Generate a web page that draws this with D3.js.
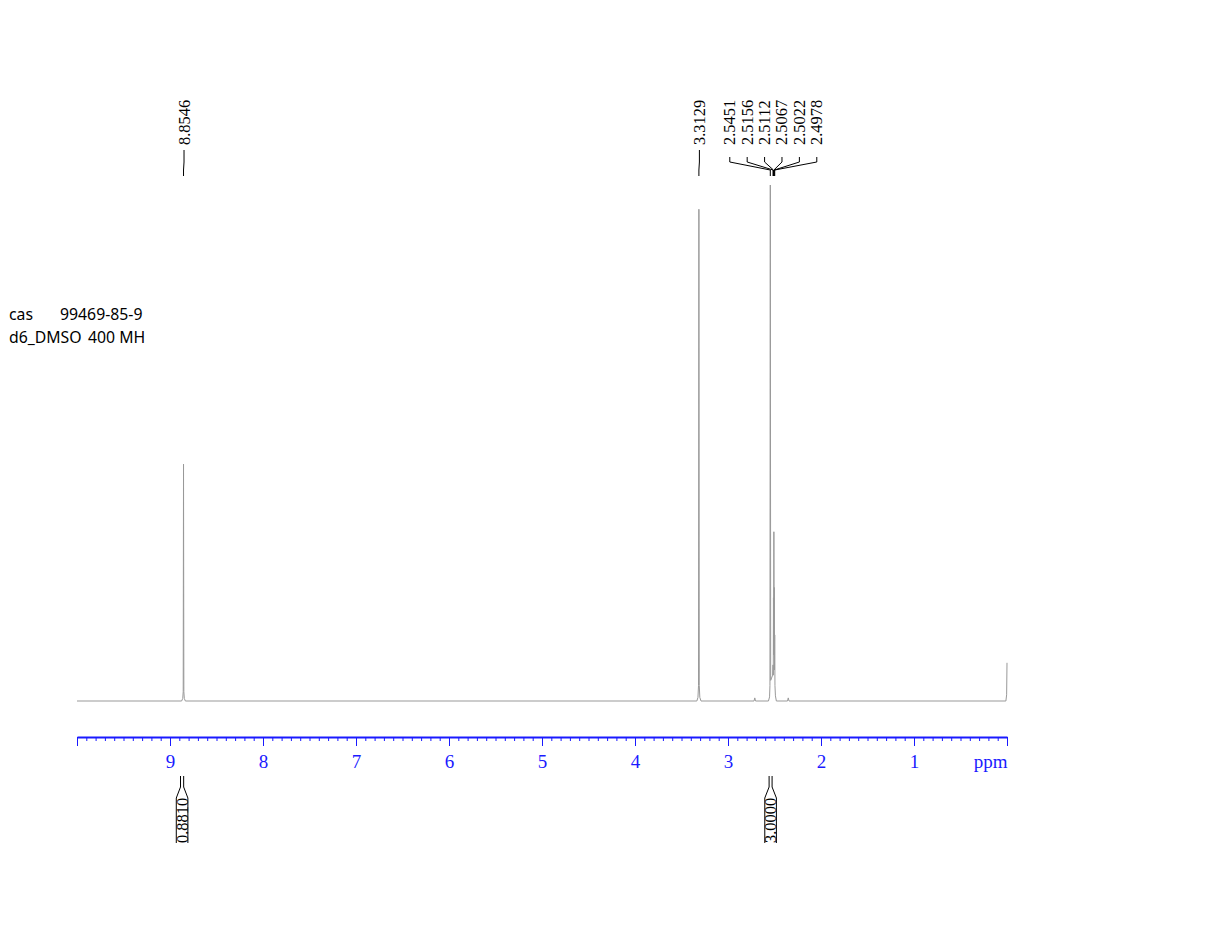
<!DOCTYPE html>
<html><head><meta charset="utf-8">
<script src="https://cdn.jsdelivr.net/npm/d3@7/dist/d3.min.js"></script>
<style>body{margin:0;background:#fff}svg{display:block}</style>
</head><body>
<svg id="c" width="1222" height="952"></svg>
<script>
// ---- data ----
// spectrum points: [ppm, relative intensity]
const spectrum = [
  [10.0, 0],
  [8.875, 0], [8.863, 0.5], [8.858, 1.8], [8.8546, 45.9], [8.851, 1.8], [8.846, 0.5], [8.835, 0],
  [3.335, 0], [3.323, 0.7], [3.317, 3], [3.3129, 95.3], [3.309, 3], [3.303, 0.7], [3.29, 0],
  [2.72, 0], [2.712, 0.6], [2.704, 0],
  [2.565, 0], [2.553, 0.8], [2.549, 3], [2.5451, 100], [2.541, 4], [2.52, 5], [2.5156, 7], [2.513, 5],
  [2.5112, 20], [2.509, 9], [2.5067, 32.8], [2.504, 9], [2.5022, 22], [2.500, 6], [2.4978, 12.8],
  [2.495, 3], [2.49, 1], [2.48, 0],
  [2.36, 0], [2.352, 0.6], [2.344, 0],
  [0.012, 0], [0.004, 1.2], [0.0, 7.4]
];
const peakGroups = [
  ["8.8546"],
  ["3.3129"],
  ["2.5451", "2.5156", "2.5112", "2.5067", "2.5022", "2.4978"]
];
const integralRanges = [[8.887, 8.853], [2.558, 2.526]];
const integralValues = ["0.8810", "3.0000"];
const majorTicks = [10, 9, 8, 7, 6, 5, 4, 3, 2, 1, 0];
const majorTickLabels = ["", "9", "8", "7", "6", "5", "4", "3", "2", "1", "ppm"];
const minorTicks = d3.range(0, 100).map(i => i / 10);
const infoLines = [["cas", "99469-85-9"], ["d6_DMSO", "400 MH"]];

// ---- drawing ----
const svg = d3.select("#c");
const x = d3.scaleLinear().domain([10, 0]).range([77, 1007]);
const y = d3.scaleLinear().domain([0, 100]).range([701, 185]);

// spectrum
svg.append("path")
  .datum(spectrum)
  .attr("d", d3.line().x(d => x(d[0])).y(d => y(d[1])))
  .attr("fill", "none").attr("stroke", "#999").attr("stroke-width", 1);

// axis
const axisY = 737;
const blue = "#1a1aff";
const gMinor = svg.append("g").attr("transform", `translate(0,${axisY})`)
  .call(d3.axisBottom(x).tickValues(minorTicks).tickSize(4).tickSizeOuter(0).tickFormat(""));
gMinor.select(".domain").remove();
gMinor.selectAll("line").attr("stroke", blue);
const gMajor = svg.append("g").attr("transform", `translate(0,${axisY})`)
  .call(d3.axisBottom(x).tickValues(majorTicks).tickSize(9).tickSizeOuter(0)
    .tickFormat((d, i) => majorTickLabels[i]));
gMajor.select(".domain").attr("stroke", blue).attr("stroke-width", 2);
gMajor.selectAll(".tick line").attr("stroke", blue);
gMajor.selectAll(".tick text")
  .attr("y", 31).attr("dy", 0)
  .attr("fill", blue)
  .attr("font-family", "'Liberation Serif','Times New Roman',serif")
  .attr("font-size", 19);
gMajor.selectAll(".tick text").filter(d => d === 0).attr("text-anchor", "end").attr("x", 0);

// peak labels
const serif = "'Liberation Serif','Times New Roman',serif";
const spacing = 17.4;
peakGroups.forEach(group => {
  const px = group.map(v => x(+v));
  const center = d3.mean(px);
  const n = group.length;
  group.forEach((lab, i) => {
    const lx = n === 1 ? px[i] + 0.5 : center + (i - (n - 1) / 2) * spacing;
    svg.append("text")
      .attr("transform", `translate(${lx + 5.5},145) rotate(-90)`)
      .attr("font-family", serif).attr("font-size", 16.5).attr("fill", "#000")
      .text(lab);
    const top = n === 1 ? 150 : 157;
    svg.append("path")
      .attr("d", `M${lx},${top}L${lx},162L${px[i]},170L${px[i]},176`)
      .attr("fill", "none").attr("stroke", "#000").attr("stroke-width", 1);
  });
});

// integrals
integralRanges.forEach((r, i) => {
  const x1 = x(r[0]), x2 = x(r[1]);
  const cx = (x1 + x2) / 2;
  const hw = 5.8;
  svg.append("path")
    .attr("d", `M${x1},776L${x1},787L${cx - hw},798L${cx - hw},843` +
               `M${x2},776L${x2},787L${cx + hw},798L${cx + hw},843`)
    .attr("fill", "none").attr("stroke", "#000").attr("stroke-width", 1);
  svg.append("text")
    .attr("transform", `translate(${cx + 5.5},843) rotate(-90)`)
    .attr("font-family", serif).attr("font-size", 16.5).attr("fill", "#000")
    .text(integralValues[i]);
});

// info text
const sans = "'Noto Sans','Open Sans',sans-serif";
const infoX = [9, 60, 9, 88];
infoLines.forEach((line, i) => {
  line.forEach((t, j) => {
    svg.append("text")
      .attr("x", infoX[i * 2 + j]).attr("y", 320 + i * 23)
      .attr("font-family", sans).attr("font-size", 15.8).attr("fill", "#000")
      .text(t);
  });
});
</script>
</body></html>
